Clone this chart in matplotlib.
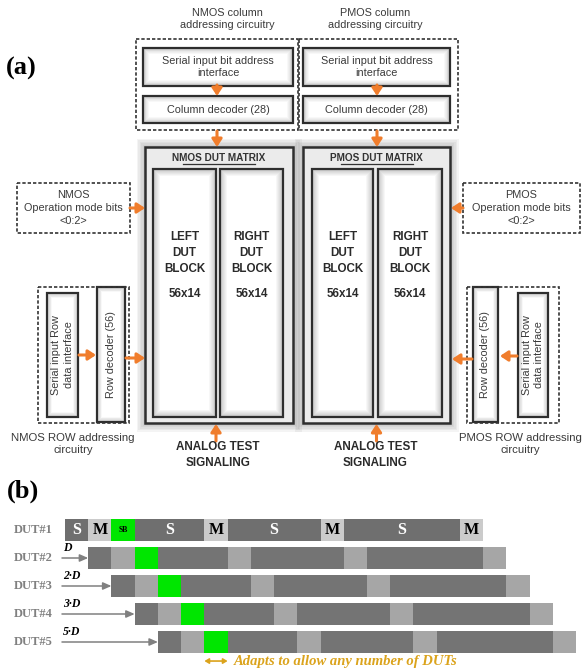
import matplotlib.pyplot as plt
from matplotlib.patches import Rectangle

W, H = 584, 671
ORANGE = "#f07d2c"
EDGE = "#2e2e2e"
TXT = "#3a3a3a"
SANS = "Liberation Sans"
SERIF = "Liberation Serif"

# ---- timing data for panel (b) ----
seg_kinds = ["S", "M", "SB", "S", "M", "S", "M", "S", "M"]
seg_units = [1, 1, 1, 3, 1, 4, 1, 5, 1]
dut_names = ["DUT#1", "DUT#2", "DUT#3", "DUT#4", "DUT#5"]
dut_offsets = [0, 1, 2, 3, 4]
delay_labels = ["", "D", "2·D", "3·D", "5·D"]
total_units = 22

first_colors = {"S": "#6f6f6f", "M": "#cbcbcb", "SB": "#00e600"}
other_colors = {"S": "#747474", "M": "#a6a6a6", "SB": "#00e600"}


def soft_box(ax, x0, y0, x1, y1, base=0.80, glow=6, lw=1.6, shadow=False, fill=None):
    w, h = x1 - x0, y1 - y0
    if shadow:
        for k in range(6):
            d = 1 + k * 1.5
            ax.add_patch(Rectangle((x0 - d, y0 - d), w + 2 * d, h + 2 * d,
                                   fc="0.4", ec="none", alpha=0.07, zorder=1))
    if fill is not None:
        ax.add_patch(Rectangle((x0, y0), w, h, fc=fill, ec="none", zorder=2))
    else:
        n = 8
        for k in range(n):
            t = k / (n - 1)
            ins = glow * t
            c = base + (1 - base) * t
            ax.add_patch(Rectangle((x0 + ins, y0 + ins), w - 2 * ins, h - 2 * ins,
                                   fc=str(c), ec="none", zorder=2))
    ax.add_patch(Rectangle((x0, y0), w, h, fill=False, ec=EDGE, lw=lw, zorder=3))


def dashed_box(ax, x0, y0, x1, y1):
    ax.add_patch(Rectangle((x0, y0), x1 - x0, y1 - y0, fill=False, ec="#333333",
                           lw=1.2, ls=(0, (2, 1.2)), zorder=4))


def arrow(ax, x0, y0, x1, y1):
    ax.annotate("", xy=(x1, y1), xytext=(x0, y0),
                arrowprops=dict(arrowstyle="-|>,head_length=0.45,head_width=0.3",
                                color=ORANGE, lw=2.2, shrinkA=0, shrinkB=0), zorder=5)


def label(ax, x, y, s, size=7.8, weight="normal", color=TXT, spacing=1.3, **kw):
    ax.text(x, y, s, ha="center", va="center", fontsize=size, family=SANS,
            fontweight=weight, color=color, linespacing=spacing, zorder=6, **kw)


fig = plt.figure(figsize=(W / 100, H / 100), dpi=100)
ax = fig.add_axes([0, 0, 1, 1])
ax.set_xlim(0, W)
ax.set_ylim(H, 0)
ax.axis("off")

# ---- panel (a) ----
ax.text(6, 68, "(a)", fontsize=19, family=SERIF, fontweight="bold", va="center")

for cx, name, bx0, bx1, dx0, dx1, ax_x in [(227, "NMOS", 143, 293, 136, 298, 217),
                                           (375, "PMOS", 303, 450, 299, 458, 377)]:
    label(ax, cx, 19, f"{name} column\naddressing circuitry")
    dashed_box(ax, dx0, 39, dx1, 130)
    soft_box(ax, bx0, 48, bx1, 86)
    soft_box(ax, bx0, 96, bx1, 123)
    label(ax, (bx0 + bx1) / 2, 67, "Serial input bit address\ninterface")
    label(ax, (bx0 + bx1) / 2, 110, "Column decoder (28)")
    arrow(ax, ax_x, 85, ax_x, 96)
    arrow(ax, ax_x, 131, ax_x, 147)

# DUT matrices
for name, ox0, ox1, blocks in [("NMOS", 145, 293, [(153, 216), (220, 283)]),
                               ("PMOS", 303, 450, [(312, 373), (378, 442)])]:
    soft_box(ax, ox0, 147, ox1, 423, lw=1.8, shadow=True, fill="#ebebeb")
    cx = (ox0 + ox1) / 2
    ax.text(cx, 158, f"{name} DUT MATRIX", ha="center", va="center", fontsize=7.2,
            family=SANS, fontweight="bold", color="#333333", zorder=6)
    ax.plot([cx - 36, cx + 36], [164, 164], color="#333333", lw=0.9, zorder=6)
    for (bx0, bx1), side in zip(blocks, ["LEFT", "RIGHT"]):
        soft_box(ax, bx0, 169, bx1, 417, base=0.78, glow=7)
        label(ax, (bx0 + bx1) / 2, 253, f"{side}\nDUT\nBLOCK", size=8.4,
              weight="bold", color="#2a2a2a", spacing=1.45)
        label(ax, (bx0 + bx1) / 2, 294, "56x14", size=8.4, weight="bold", color="#2a2a2a")
    ax_x = cx - 3 if name == "NMOS" else cx
    arrow(ax, ax_x, 441, ax_x, 424)
    label(ax, cx - 1, 455, "ANALOG TEST\nSIGNALING", size=8.4, weight="bold",
          color="#2a2a2a", spacing=1.4)

# operation mode boxes
dashed_box(ax, 17, 183, 130, 233)
label(ax, 73, 208, "NMOS\nOperation mode bits\n<0:2>", spacing=1.4)
arrow(ax, 130, 208, 145, 208)
dashed_box(ax, 463, 183, 580, 233)
label(ax, 521, 208, "PMOS\nOperation mode bits\n<0:2>", spacing=1.4)
arrow(ax, 463, 208, 451, 208)

# row addressing
dashed_box(ax, 38, 287, 129, 423)
soft_box(ax, 47, 293, 78, 417, glow=5)
soft_box(ax, 97, 287, 125, 422, glow=5)
label(ax, 62.5, 355, "Serial input Row\ndata interface", rotation=90)
label(ax, 111, 355, "Row decoder (56)", rotation=90)
arrow(ax, 79, 355, 96, 355)
arrow(ax, 126, 358, 145, 358)
label(ax, 73, 444, "NMOS ROW addressing\ncircuitry", size=8.2)

dashed_box(ax, 467, 287, 559, 423)
soft_box(ax, 473, 287, 498, 422, glow=5)
soft_box(ax, 518, 293, 548, 417, glow=5)
label(ax, 485.5, 355, "Row decoder (56)", rotation=90)
label(ax, 533, 355, "Serial input Row\ndata interface", rotation=90)
arrow(ax, 517, 356, 500, 356)
arrow(ax, 472, 359, 452, 359)
label(ax, 520, 444, "PMOS ROW addressing\ncircuitry", size=8.2)

# ---- panel (b) ----
ax.text(7, 491, "(b)", fontsize=19, family=SERIF, fontweight="bold", va="center")

u = 23.23
bx0, by0, by1 = 65, 516, 656
axb = fig.add_axes([bx0 / W, 1 - by1 / H, total_units * u / W, (by1 - by0) / H])
axb.set_xlim(0, total_units)
axb.set_ylim(len(dut_names) - 0.5, -0.5)
axb.axis("off")

for row, (name, off) in enumerate(zip(dut_names, dut_offsets)):
    colors = first_colors if row == 0 else other_colors
    left = off
    for kind, n in zip(seg_kinds, seg_units):
        axb.barh(row, n, left=left, height=0.82, color=colors[kind], lw=0)
        if row == 0:
            if kind == "S":
                axb.text(left + n / 2, row, "S", ha="center", va="center", color="white",
                         fontsize=11.5, family=SERIF, fontweight="bold")
            elif kind == "M":
                axb.text(left + n / 2, row, "M", ha="center", va="center", color="black",
                         fontsize=11.5, family=SERIF, fontweight="bold")
            else:
                axb.text(left + n / 2, row, "SB", ha="center", va="center", color="black",
                         fontsize=5.5, family=SERIF, fontweight="bold")
        left += n
    axb.text(-0.52, row, name, ha="right", va="center", color="#808080", fontsize=9,
             family=SERIF, fontweight="bold", clip_on=False)
    if off > 0:
        axb.annotate("", xy=(off, row), xytext=(-0.13, row), annotation_clip=False,
                     arrowprops=dict(arrowstyle="-|>,head_length=0.5,head_width=0.22",
                                     color="#808080", lw=1.1, shrinkA=0, shrinkB=0))
        axb.text(-0.09, row - 0.36, delay_labels[row], ha="left", va="center",
                 fontsize=8.5, family=SERIF, fontweight="bold", style="italic",
                 color="black", clip_on=False)

# stretchable sync-bit window
gold = "#dba31c"
sb_left = dut_offsets[-1] + seg_units[0] + seg_units[1]
axb.annotate("", xy=(sb_left, 4.68), xytext=(sb_left + 1, 4.68), annotation_clip=False,
             arrowprops=dict(arrowstyle="<|-|>,head_length=0.25,head_width=0.15",
                             color=gold, lw=1.2, shrinkA=0, shrinkB=0))
axb.text(sb_left + 1.25, 4.7, "Adapts to allow any number of DUTs", ha="left",
         va="center", fontsize=10.5, family=SERIF, fontweight="bold", style="italic",
         color=gold, clip_on=False)

fig.savefig("out.png", dpi=100)
